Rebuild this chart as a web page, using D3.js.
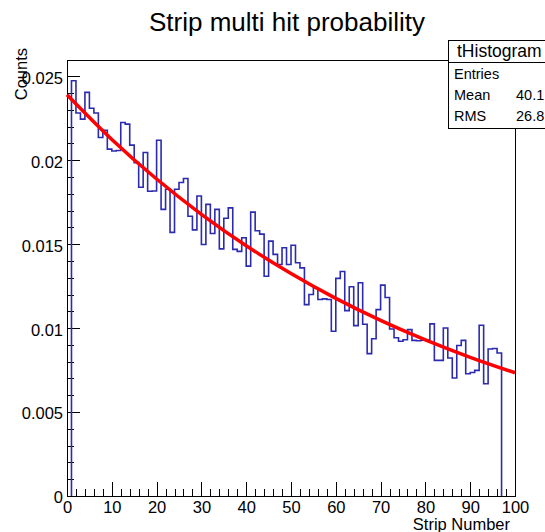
<!DOCTYPE html>
<html>
<head>
<meta charset="utf-8">
<script src="https://cdn.jsdelivr.net/npm/d3@7"></script>
<style>
  body { margin: 0; background: #fff; }
  svg text { font-family: "Liberation Sans", Arial, sans-serif; fill: #000; }
  .axis path { display: none; }
  .axis line { stroke: #000; stroke-width: 1; shape-rendering: crispEdges; }
</style>
</head>
<body>
<div id="chart"></div>
<script>
// strip number (bin lower edge) and probability per bin
var strips = d3.range(1, 97);
var counts = [
  0.02473, 0.02281, 0.02245, 0.02404, 0.02310, 0.02281, 0.02135, 0.02179, 0.02066, 0.02055,
  0.02058, 0.02225, 0.02215, 0.02090, 0.01986, 0.01839, 0.02046, 0.01815, 0.01817, 0.02119,
  0.01707, 0.01827, 0.01570, 0.01827, 0.01867, 0.01891, 0.01666, 0.01585, 0.01787, 0.01498,
  0.01737, 0.01564, 0.01707, 0.01472, 0.01654, 0.01716, 0.01469, 0.01457, 0.01538, 0.01369,
  0.01691, 0.01580, 0.01560, 0.01309, 0.01518, 0.01439, 0.01379, 0.01479, 0.01379, 0.01494,
  0.01389, 0.01359, 0.01140, 0.01200, 0.01240, 0.01170, 0.01174, 0.01170, 0.00981, 0.01296,
  0.01337, 0.01104, 0.01246, 0.01015, 0.01270, 0.01023, 0.00848, 0.00937, 0.01110, 0.01256,
  0.01182, 0.00995, 0.00943, 0.00922, 0.00931, 0.00991, 0.00927, 0.00925, 0.00928, 0.00931,
  0.01025, 0.00808, 0.00808, 0.01001, 0.00822, 0.00703, 0.00896, 0.00927, 0.00728, 0.00736,
  0.00748, 0.01017, 0.00669, 0.00876, 0.00879, 0.00852
];

// fit curve
var fitX = [0, 10, 20, 30, 40, 50, 60, 70, 80, 90, 100];
var fitY = [0.0239, 0.02124, 0.01888, 0.01678, 0.01491, 0.01325, 0.01177, 0.01046, 0.0093, 0.00826, 0.00734];

var xTicks = [0, 10, 20, 30, 40, 50, 60, 70, 80, 90, 100];
var xTickLabels = ["0", "10", "20", "30", "40", "50", "60", "70", "80", "90", "100"];
var yTicks = [0, 0.005, 0.01, 0.015, 0.02, 0.025];
var yTickLabels = ["0", "0.005", "0.01", "0.015", "0.02", "0.025"];

var statNames = ["Entries", "Mean", "RMS"];
var statValues = ["", "40.1", "26.8"];

var width = 545, height = 532;
var frame = {left: 67, right: 515, top: 60, bottom: 496};

var svg = d3.select("#chart").append("svg")
  .attr("width", width)
  .attr("height", height);

var xScale = d3.scaleLinear().domain([0, 100]).range([frame.left, frame.right]);
var yScale = d3.scaleLinear().domain([0, 0.02597]).range([frame.bottom, frame.top]);

// frame
svg.append("rect")
  .attr("x", frame.left).attr("y", frame.top)
  .attr("width", frame.right - frame.left)
  .attr("height", frame.bottom - frame.top)
  .attr("fill", "none").attr("stroke", "#000").attr("stroke-width", 1)
  .attr("shape-rendering", "crispEdges");

// minor ticks
var xMinor = d3.range(0, 101, 2);
var yMinor = d3.range(0, 0.0259, 0.001);

svg.append("g").attr("class", "axis")
  .attr("transform", "translate(0," + frame.bottom + ")")
  .call(d3.axisBottom(xScale).tickValues(xMinor).tickSize(-7).tickFormat(""));
svg.append("g").attr("class", "axis")
  .attr("transform", "translate(" + frame.left + ",0)")
  .call(d3.axisLeft(yScale).tickValues(yMinor).tickSize(-7).tickFormat(""));

// major ticks + labels
var xAxis = svg.append("g").attr("class", "axis")
  .attr("transform", "translate(0," + frame.bottom + ")")
  .call(d3.axisBottom(xScale).tickValues(xTicks).tickSize(-14).tickPadding(5)
    .tickFormat(function(d, i) { return xTickLabels[i]; }));
xAxis.selectAll("text").attr("font-size", 16.5).attr("font-family", null);

var yAxis = svg.append("g").attr("class", "axis")
  .attr("transform", "translate(" + frame.left + ",0)")
  .call(d3.axisLeft(yScale).tickValues(yTicks).tickSize(-13).tickPadding(4)
    .tickFormat(function(d, i) { return yTickLabels[i]; }));
yAxis.selectAll("text").attr("font-size", 16.5).attr("font-family", null).attr("dy", "0.42em");

// histogram outline
var pts = [[strips[0], 0]];
strips.forEach(function(s, i) { pts.push([s, counts[i]]); });
pts.push([strips[strips.length - 1] + 1, 0]);

var histLine = d3.line()
  .x(function(d) { return xScale(d[0]); })
  .y(function(d) { return yScale(d[1]); })
  .curve(d3.curveStepAfter);

svg.append("path")
  .attr("d", histLine(pts))
  .attr("fill", "none")
  .attr("stroke", "#2b2bb0")
  .attr("stroke-width", 1.6);

// fit
var fitLine = d3.line()
  .x(function(d, i) { return xScale(fitX[i]); })
  .y(function(d) { return yScale(d); })
  .curve(d3.curveMonotoneX);

svg.append("path")
  .attr("d", fitLine(fitY))
  .attr("fill", "none")
  .attr("stroke", "#ff0000")
  .attr("stroke-width", 3.5);

// titles
svg.append("text")
  .attr("x", 287).attr("y", 31)
  .attr("text-anchor", "middle")
  .attr("font-size", 26)
  .text("Strip multi hit probability");

svg.append("text")
  .attr("transform", "translate(27,48) rotate(-90)")
  .attr("text-anchor", "end")
  .attr("font-size", 16.5)
  .text("Counts");

svg.append("text")
  .attr("x", 510).attr("y", 529.5)
  .attr("text-anchor", "end")
  .attr("font-size", 16.5)
  .text("Strip Number");

// stats box
var box = svg.append("g");
box.append("rect")
  .attr("x", 448).attr("y", 40).attr("width", 130).attr("height", 88)
  .attr("fill", "#fff").attr("stroke", "#000").attr("stroke-width", 1)
  .attr("shape-rendering", "crispEdges");
box.append("line")
  .attr("x1", 448).attr("x2", 578).attr("y1", 62.5).attr("y2", 62.5)
  .attr("stroke", "#000").attr("shape-rendering", "crispEdges");
box.append("text")
  .attr("x", 457).attr("y", 57)
  .attr("font-size", 17.5)
  .text("tHistogram");

statNames.forEach(function(n, i) {
  box.append("text")
    .attr("x", 454).attr("y", 79 + i * 21)
    .attr("font-size", 14.5)
    .text(n);
  box.append("text")
    .attr("x", 516).attr("y", 79 + i * 21)
    .attr("font-size", 14.5)
    .text(statValues[i]);
});
</script>
</body>
</html>
